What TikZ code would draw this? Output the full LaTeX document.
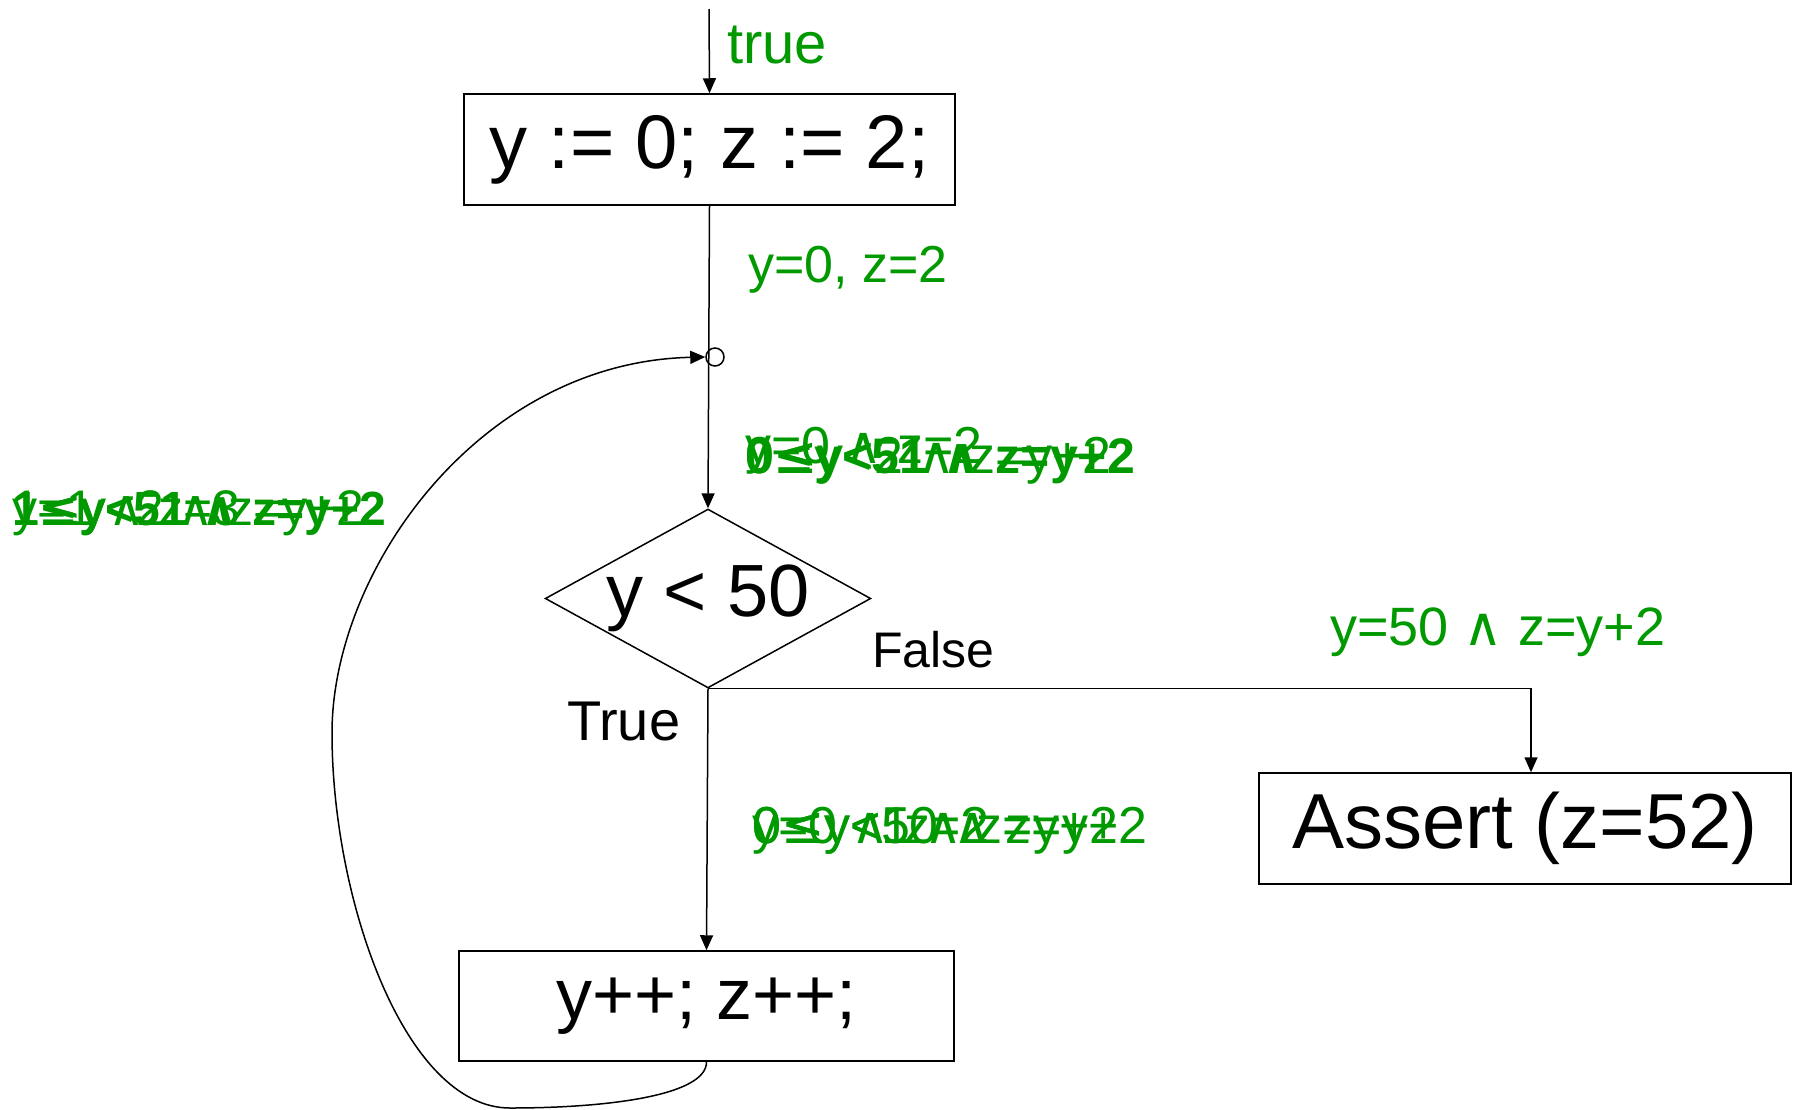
\documentclass[tikz,border=0pt]{standalone}
\usepackage{fontspec}
\setmainfont{Liberation Sans}
\newfontfamily\symfont{DejaVu Sans}
\usetikzlibrary{arrows.meta, positioning, shapes.geometric}
\definecolor{invgreen}{RGB}{0,153,0}
\newcommand{\andsym}{{\symfont ∧}}
\newcommand{\leqsym}{{\symfont ≤}}

\begin{document}
\begin{tikzpicture}[x=1pt, y=-1pt,
    stmt/.style={draw, rectangle, line width=1.5pt, inner sep=0pt},
    flow/.style={line width=1.5pt, -{Triangle[length=15pt,width=13pt]}},
    inv/.style={text=invgreen, anchor=base west, inner sep=0pt, font=\fontsize{52}{56}\selectfont},
    invbold/.style={inv, font=\fontsize{50}{54}\selectfont\bfseries},
    lbl/.style={anchor=base west, inner sep=0pt}]
    \useasboundingbox (0,0) rectangle (1797,1109);

    % Statements
    \node[stmt, minimum width=491pt, minimum height=111pt, font=\fontsize{76}{80}\selectfont] (init) at (709.5,149.5) {y := 0; z := 2;};
    \node[draw, circle, line width=1.5pt, minimum size=18pt, inner sep=0pt] (join) at (715,357) {};
    \node[draw, diamond, aspect=1.82, line width=1.5pt, minimum width=319pt, minimum height=175pt, inner sep=0pt, font=\fontsize{74}{78}\selectfont] (cond) at (708,598.5) {y < 50};
    \node[stmt, minimum width=495pt, minimum height=110pt, font=\fontsize{72}{76}\selectfont] (incr) at (706.5,1006) {y++; z++;};
    \node[stmt, minimum width=532pt, minimum height=111pt, font=\fontsize{78}{82}\selectfont] (assert) at (1525,828.5) {Assert (z=52)};

    % Edges
    \coordinate (entry) at (709,9);
    \draw[flow] (entry) -- (init.north);
    \draw[flow] (init.south) -- (cond.north);
    \draw[flow] (cond.south) -| ([xshift=6pt]assert.north);
    \draw[flow] (cond.south) -- (incr.north);

    % Back edge of the loop
    \coordinate (loopbot) at (510,1108);
    \coordinate (loopleft) at (332,733);
    \draw[flow] (incr.south) .. controls (707,1095) and (610,1108) .. (loopbot)
        .. controls (405,1108) and (332,900) .. (loopleft)
        .. controls (332,570) and (480,362) .. (join.west);

    % Branch labels
    \node[lbl, font=\fontsize{50}{54}\selectfont] (flbl) at (872,667) {False};
    \node[lbl, font=\fontsize{56}{60}\selectfont] (tlbl) at (567,740) {True};

    % Invariants
    \node[inv, font=\fontsize{58}{62}\selectfont] (inv0) at (727,63) {true};
    \node[inv] (inv1) at (748,282) {y=0, z=2};
    \node[inv] (inv2a) at (745,463) {y=0 \andsym{} z=2};
    \node[inv] (inv2b) at (745,473) {0\leqsym y<2 \andsym{} z=y+2};
    \node[invbold] (inv2c) at (745,473) {0\leqsym y<51 \andsym{} z=y+2};
    \node[inv, font=\fontsize{50}{54}\selectfont] (inv3a) at (12,525) {y=1 \andsym{} z=3};
    \node[inv, font=\fontsize{50}{54}\selectfont] (inv3b) at (12,525) {1\leqsym y<2 \andsym{} z=y+2};
    \node[invbold, font=\fontsize{48}{52}\selectfont\bfseries] (inv3c) at (12,525) {1\leqsym y<51 \andsym{} z=y+2};
    \node[inv] (inv4a) at (752,843) {y=0 \andsym{} z=2};
    \node[inv] (inv4b) at (752,843) {0\leqsym y<1 \andsym{} z=y+2};
    \node[inv] (inv4c) at (752,843) {0\leqsym y<50 \andsym{} z=y+2};
    \node[inv, font=\fontsize{54}{58}\selectfont] (inv5) at (1330,645) {y=50 \andsym{} z=y+2};
\end{tikzpicture}
\end{document}
